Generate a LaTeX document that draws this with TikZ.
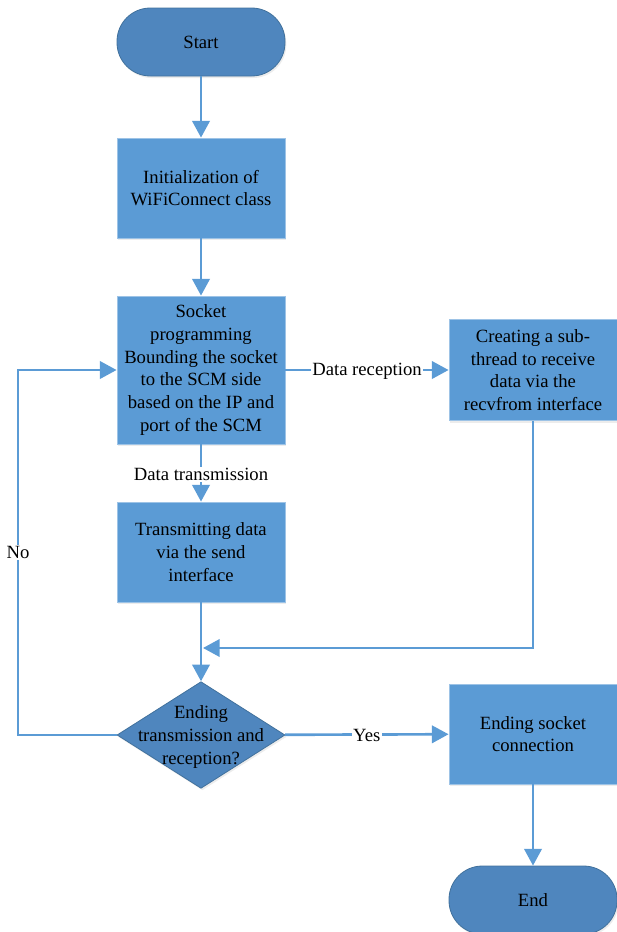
\documentclass[tikz,border=0pt]{standalone}
\usepackage{fontspec}
\setmainfont{Liberation Serif}
\usetikzlibrary{arrows.meta,shapes.geometric,positioning,shadows}
\definecolor{boxBlue}{HTML}{5B9BD5}
\definecolor{termBlue}{HTML}{4F86BE}
\definecolor{rimBlue}{HTML}{41719C}
\newcommand{\myFlowFont}{\fontsize{14}{17}\selectfont}

\begin{document}
\begin{tikzpicture}[x=0.75pt,y=-0.75pt,>={Triangle[length=12.5pt,width=13pt]},
	Edge/.style={->,color=boxBlue,line width=2pt},
	EdgeLabel/.style={fill=white,text=black,inner sep=1pt,font=\myFlowFont},
	Terminal/.style={rectangle,rounded corners=25pt,fill=termBlue,draw=rimBlue,line width=0.6pt,minimum width=126pt,minimum height=51pt,font=\myFlowFont,drop shadow={opacity=0.15,shadow xshift=1pt,shadow yshift=-1.5pt}},
	Process/.style={rectangle,fill=boxBlue,draw=boxBlue!60!white,line width=0.6pt,minimum width=126pt,minimum height=75pt,inner sep=3pt,align=center,font=\myFlowFont,drop shadow={opacity=0.15,shadow xshift=1pt,shadow yshift=-1.5pt}},
	Decision/.style={diamond,fill=termBlue,draw=rimBlue,line width=0.6pt,minimum width=126pt,minimum height=80pt,inner sep=0pt,aspect=1.57,drop shadow={opacity=0.15,shadow xshift=1pt,shadow yshift=-1.5pt}},
]
	\useasboundingbox (0,0) rectangle (617,932);
	%\draw[help lines,step=50,gray!20] (0,0) grid (617,932);
	\node[Terminal] (Start) at (201,42) {Start};
	\node[Process] (Init) at (201,188) {Initialization of\\WiFiConnect class};
	\node[Process,minimum height=111pt] (Socket) at (201,370) {Socket\\programming\\Bounding the socket\\to the SCM side\\based on the IP and\\port of the SCM};
	\node[Process] (Send) at (201,552) {Transmitting data\\via the send\\interface};
	\node[Process,minimum height=76pt] (Recv) at (533,370) {Creating a sub-\\thread to receive\\data via the\\recvfrom interface};
	\node[Decision,label={[align=center,font=\myFlowFont,text depth=0pt]center:Ending\\transmission and\\reception?}] (Check) at (201,735) {};
	\node[Process] (Close) at (533,734) {Ending socket\\connection};
	\node[Terminal] (End) at (533,900) {End};

	\coordinate (Merge) at (203,648);
	\coordinate (NoCorner) at (18,735);

	\path[Edge]
	(Start) edge (Init)
	(Init) edge (Socket)
	(Socket) edge node[EdgeLabel,yshift=-1pt]{Data transmission} (Send)
	(Socket) edge node[EdgeLabel,yshift=-1pt]{Data reception} (Recv)
	(Send) edge (Check)
	(Check) edge node[EdgeLabel,yshift=-1pt]{Yes} (Close)
	(Close) edge (End)
	;
	\draw[Edge] (Recv.south) |- (Merge);
	\draw[Edge] (Check.west) -- (NoCorner) |- node[EdgeLabel,pos=0.25]{No} (Socket.west);
\end{tikzpicture}
\end{document}
